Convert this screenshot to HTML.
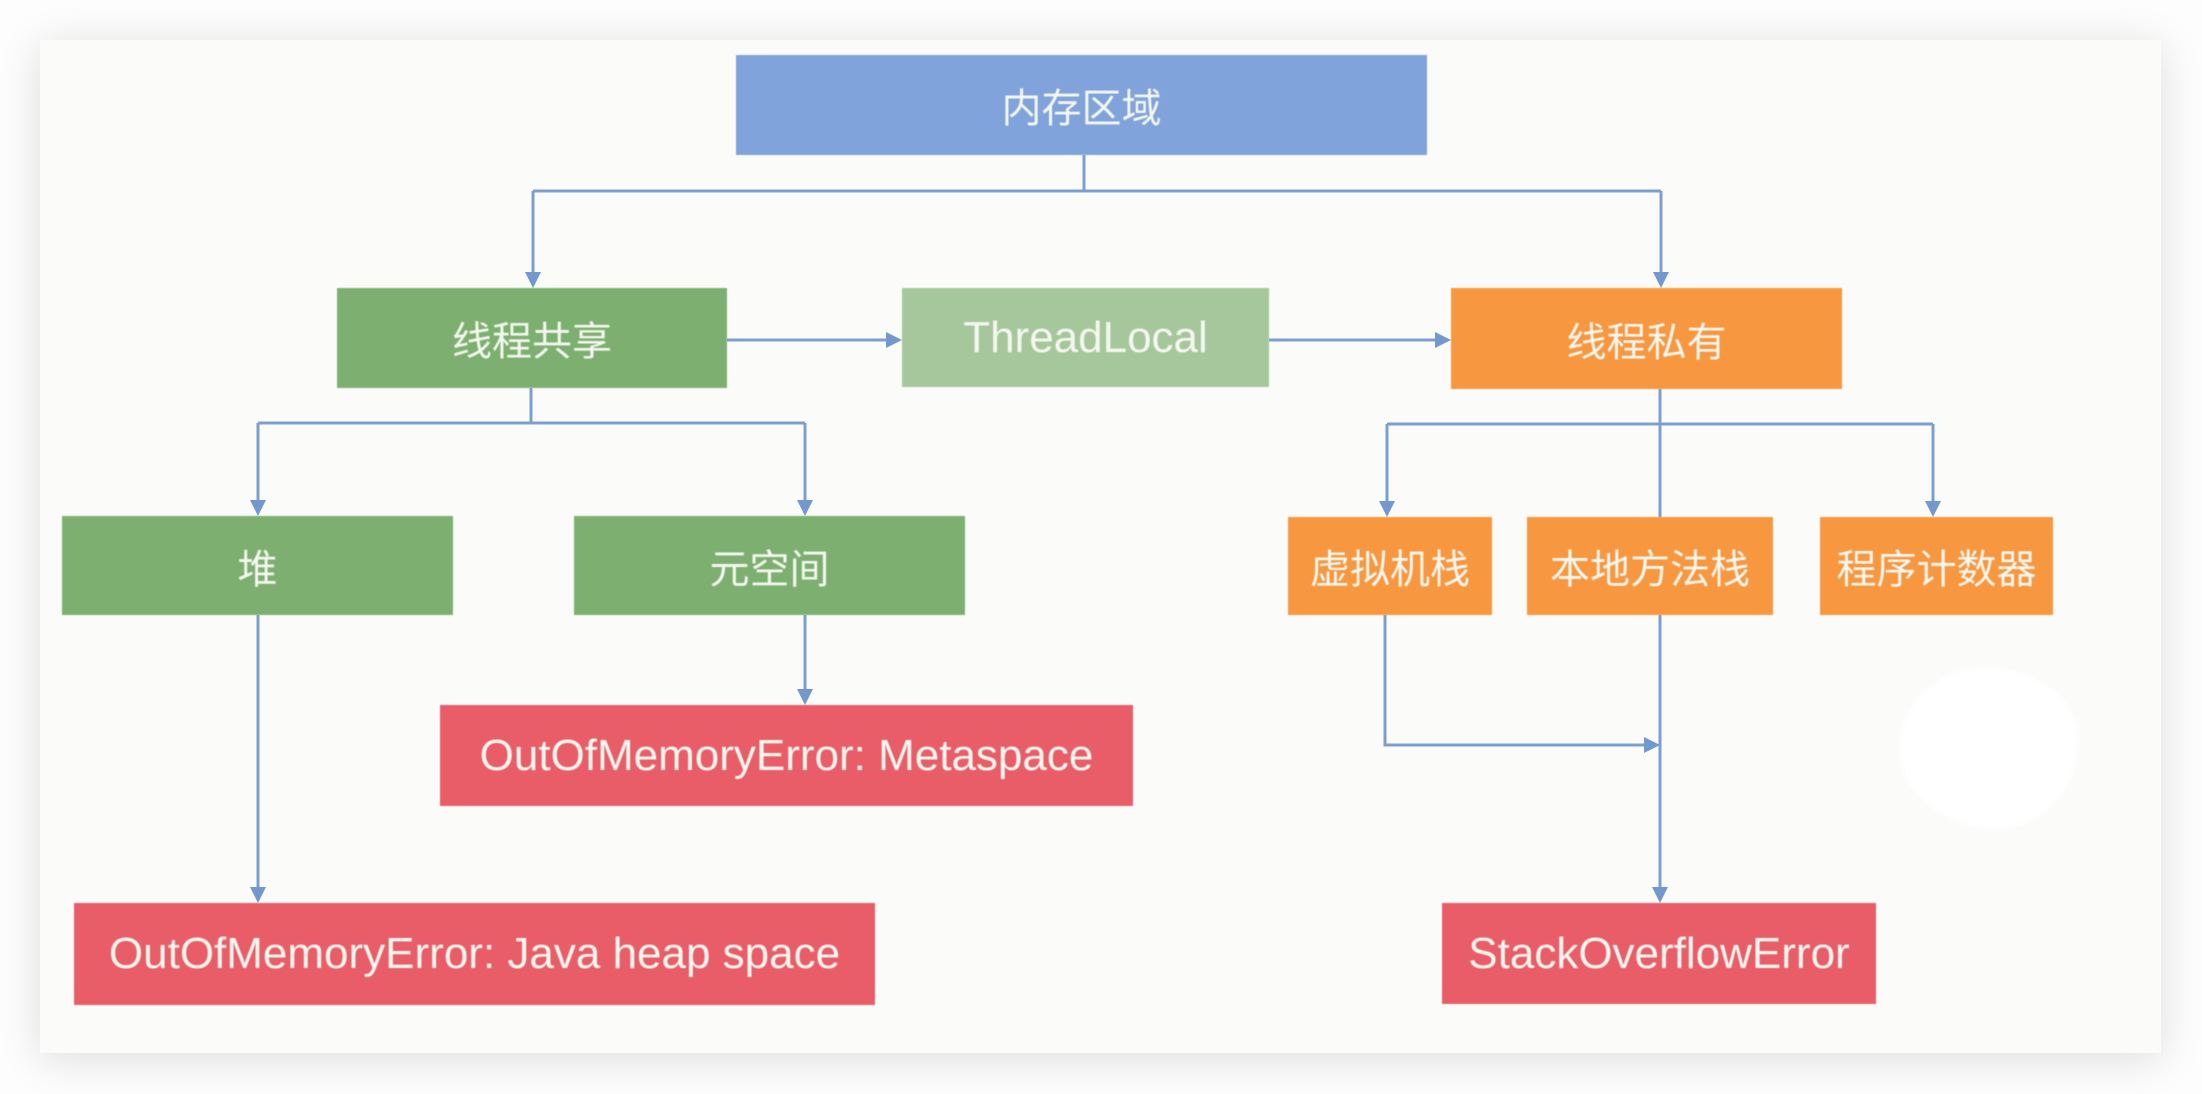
<!DOCTYPE html>
<html>
<head>
<meta charset="utf-8">
<style>
  html,body{margin:0;padding:0;}
  body{width:2202px;height:1094px;background:#fdfdfd;position:relative;overflow:hidden;
       font-family:"Liberation Sans","Noto Sans CJK SC",sans-serif;}
  .card{position:absolute;left:40px;top:40px;width:2121px;height:1013px;background:#fbfcfa;
        box-shadow:0 6px 40px rgba(0,0,0,0.13);}
  .blob{position:absolute;left:1900px;top:668px;width:178px;height:160px;background:#ffffff;
        border-radius:48% 52% 45% 55% / 50% 45% 55% 50%;filter:blur(3px);}
  .b{position:absolute;display:flex;align-items:center;justify-content:center;color:#f4f7ef;
     white-space:nowrap;filter:blur(0.5px);}
  .cjk{font-size:40px;}
  .lat{font-size:44px;}
  .blue{background:#7fa3da;}
  .green{background:#7db070;}
  .lgreen{background:#a6c79c;}
  .orange{background:#f7973f;}
  .red{background:#e85d67;}
  svg{position:absolute;left:0;top:0;}
</style>
</head>
<body>
<div class="card"></div>
<div class="blob"></div>

<svg width="2202" height="1094" viewBox="0 0 2202 1094">
  <g stroke="#7d9fd0" stroke-width="3" fill="none">
    <line x1="1084" y1="155" x2="1084" y2="191"/>
    <line x1="533" y1="191" x2="1661" y2="191"/>
    <line x1="533" y1="191" x2="533" y2="274"/>
    <line x1="1661" y1="191" x2="1661" y2="274"/>
    <line x1="727" y1="340" x2="888" y2="340"/>
    <line x1="1269" y1="340" x2="1437" y2="340"/>
    <line x1="531" y1="388" x2="531" y2="423"/>
    <line x1="258" y1="423" x2="805" y2="423"/>
    <line x1="258" y1="423" x2="258" y2="502"/>
    <line x1="805" y1="423" x2="805" y2="502"/>
    <line x1="1660" y1="389" x2="1660" y2="517"/>
    <line x1="1387" y1="424" x2="1933" y2="424"/>
    <line x1="1387" y1="424" x2="1387" y2="503"/>
    <line x1="1933" y1="424" x2="1933" y2="503"/>
    <line x1="258" y1="615" x2="258" y2="889"/>
    <line x1="805" y1="615" x2="805" y2="691"/>
    <polyline points="1385,615 1385,745 1646,745"/>
    <line x1="1660" y1="615" x2="1660" y2="889"/>
  </g>
  <g fill="#7398cf">
    <polygon points="525,272 541,272 533,288"/>
    <polygon points="1653,272 1669,272 1661,288"/>
    <polygon points="886,332 886,348 902,340"/>
    <polygon points="1435,332 1435,348 1451,340"/>
    <polygon points="250,500 266,500 258,516"/>
    <polygon points="797,500 813,500 805,516"/>
    <polygon points="1379,501 1395,501 1387,517"/>
    <polygon points="1925,501 1941,501 1933,517"/>
    <polygon points="250,887 266,887 258,903"/>
    <polygon points="797,689 813,689 805,705"/>
    <polygon points="1644,737 1644,753 1660,745"/>
    <polygon points="1652,887 1668,887 1660,903"/>
  </g>
</svg>

<div class="b blue cjk" style="left:736px;top:55px;width:691px;height:100px;">内存区域</div>
<div class="b green cjk" style="left:337px;top:288px;width:390px;height:100px;">线程共享</div>
<div class="b lgreen lat" style="left:902px;top:288px;width:367px;height:99px;">ThreadLocal</div>
<div class="b orange cjk" style="left:1451px;top:288px;width:391px;height:101px;">线程私有</div>

<div class="b green cjk" style="left:62px;top:516px;width:391px;height:99px;">堆</div>
<div class="b green cjk" style="left:574px;top:516px;width:391px;height:99px;">元空间</div>

<div class="b orange cjk" style="left:1288px;top:517px;width:204px;height:98px;">虚拟机栈</div>
<div class="b orange cjk" style="left:1527px;top:517px;width:246px;height:98px;">本地方法栈</div>
<div class="b orange cjk" style="left:1820px;top:517px;width:233px;height:98px;">程序计数器</div>

<div class="b red lat" style="left:440px;top:705px;width:693px;height:101px;">OutOfMemoryError: Metaspace</div>
<div class="b red lat" style="left:74px;top:903px;width:801px;height:102px;">OutOfMemoryError: Java heap space</div>
<div class="b red lat" style="left:1442px;top:903px;width:434px;height:101px;">StackOverflowError</div>
</body>
</html>
